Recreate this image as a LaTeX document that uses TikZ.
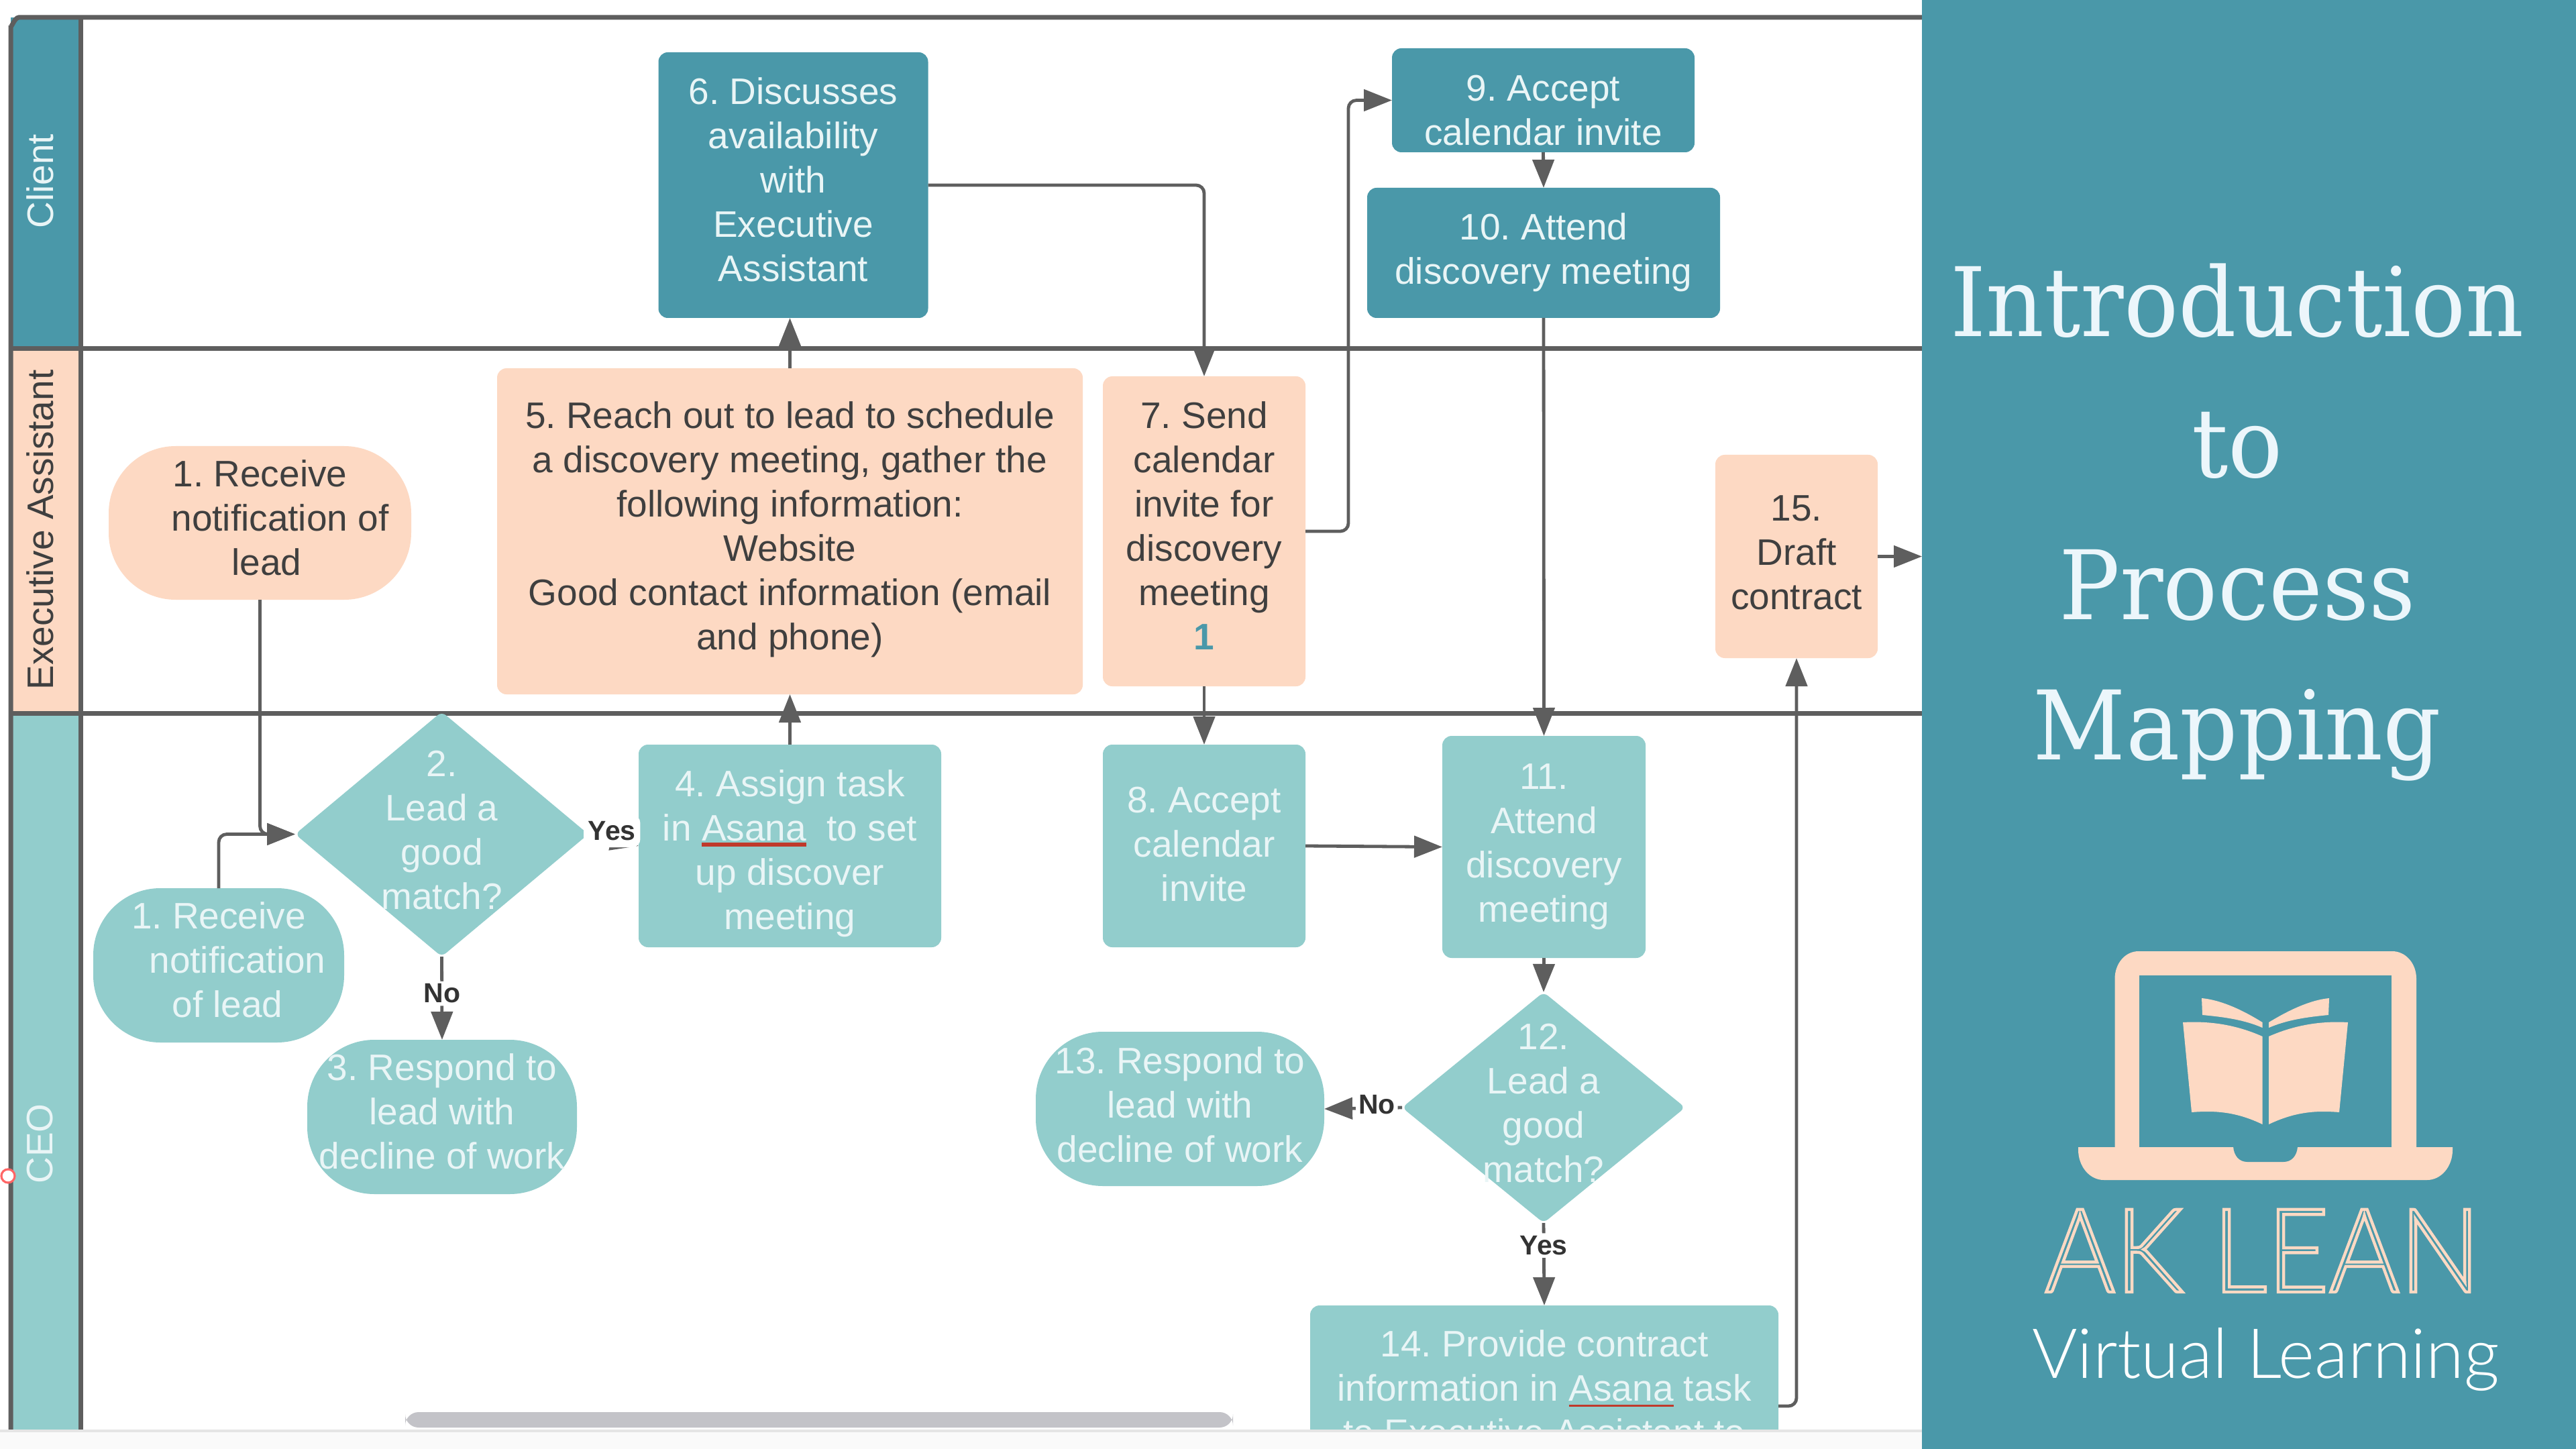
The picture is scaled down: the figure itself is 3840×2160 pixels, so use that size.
\documentclass[tikz,border=0pt]{standalone}
\usepackage{fontspec}
\usetikzlibrary{arrows.meta,shapes.geometric}
\setmainfont{Liberation Sans}
\newfontfamily\titlefont[FakeStretch=.945]{DejaVu Serif}
\newfontfamily\logofont{Lato Light}
\newfontfamily\logoname[FakeStretch=.92]{Lato Light}
\definecolor{laneteal}{HTML}{4A98A9}
\definecolor{lanemint}{HTML}{92CDCC}
\definecolor{lanepeach}{HTML}{FDD9C3}
\definecolor{linegray}{HTML}{5E5E5E}
\definecolor{darktext}{HTML}{3F3F3F}
\definecolor{lighttext}{HTML}{E9F5F6}
\definecolor{spellred}{HTML}{C0392B}
\definecolor{titletext}{HTML}{ECF6FB}
\newcommand{\redline}[2]{\setbox0\hbox{#2}\rlap{\color{spellred}\rule[-2.2pt]{\wd0}{#1}}\box0\relax}
\newcommand{\lift}[1]{\rule[-#1pt]{0pt}{0pt}}
\newcommand{\drop}[1]{\rule{0pt}{#1pt}}
\tikzset{sz/.style 2 args={minimum width=#1*.25pt, minimum height=#2*.25pt}}
\tikzset{flow/.style={inner sep=0pt, outer sep=0pt, align=center, font=\frenchspacing\fontsize{13.75}{16.5}\selectfont}}
\tikzset{cbox/.style={flow, rectangle, rounded corners=3.5pt, fill=laneteal, text=lighttext}}
\tikzset{mbox/.style={flow, rectangle, rounded corners=3.5pt, fill=lanemint, text=lighttext}}
\tikzset{pbox/.style={flow, rectangle, rounded corners=3.5pt, fill=lanepeach, text=darktext}}
\tikzset{term/.style={rounded corners=25pt}}
\tikzset{decision/.style={shape=diamond, inner sep=0pt, outer sep=0pt, rounded corners=2pt, fill=lanemint}}
\tikzset{dtext/.style={flow, text=lighttext}}
\tikzset{lanetext/.style={flow, rotate=90}}
\tikzset{laneline/.style={color=linegray, line width=1.75pt}}
\tikzset{edge/.style={color=linegray, line width=1.2pt, rounded corners=3pt, -{Triangle[length=10.5pt, width=8pt]}}}
\tikzset{edgelabel/.style={inner sep=1pt, fill=white, text=black!80, font=\fontsize{10.25}{12}\selectfont\bfseries}}
\tikzset{bigtitle/.style={inner sep=0pt, anchor=base, text=titletext, font=\titlefont\fontsize{35.75}{42}\selectfont}}
\begin{document}
\begin{tikzpicture}[x=.25pt, y=-.25pt]
  \path[use as bounding box, fill=white] (0,0) rectangle (3840,2160);

  \begin{scope}
    \clip (0,0) rectangle (2865,2133);
    % lanes
    \fill[laneteal] (16,26) rectangle (120,520);
    \fill[lanepeach] (16,520) rectangle (120,1063);
    \fill[lanemint] (16,1063) rectangle (120,2133);
    \draw[laneline] (2865,26) -- (28,26) to[out=180, in=-90] (16,38) -- (16,2133);
    \draw[laneline] (120,26) -- (120,2133);
    \draw[laneline] (16,520) -- (2865,520);
    \draw[laneline] (16,1063) -- (2865,1063);
    \node[lanetext, text=lighttext] (laneclient) at (60,270) {Client};
    \node[lanetext, text=darktext] (laneexec) at (60,790) {Executive Assistant};
    \node[lanetext, text=lighttext] (laneceo) at (60,1705) {CEO};
    \draw[color=red!60, fill=white, line width=.8pt] (12,1753) circle (10);

    % client
    \node[cbox, sz={402}{396}] (n6) at (1182.5,276) {6. Discusses\\availability\\with\\Executive\\Assistant\lift{4.2}};
    \node[cbox, sz={451}{155}] (n9) at (2300.5,149.5) {\drop{17}9. Accept\\calendar invite};
    \node[cbox, sz={526}{194}] (n10) at (2301,377) {10. Attend\\discovery meeting\lift{3}};

    % executive assistant
    \node[pbox, term, sz={451}{229}] (ea1) at (387.5,779.5) {1. Receive\\\hspace*{15pt}notification of\\\hspace*{5pt}lead\lift{4}};
    \node[pbox, sz={873}{486}] (n5) at (1177.5,792) {5. Reach out to lead to schedule\\a discovery meeting, gather the\\following information:\\Website\\Good contact information (email\\and phone)\lift{4}};
    \node[pbox, sz={302}{462}] (n7) at (1795,792) {7. Send\\calendar\\invite for\\discovery\\meeting\\{\color{laneteal}\bfseries 1}\lift{4}};
    \node[pbox, sz={242}{303}] (n15) at (2678,829.5) {15.\\Draft\\contract\lift{3}};

    % ceo
    \node[decision, sz={437}{365}, label={[dtext, yshift=1.5pt]center:{2.\\Lead a\\good\\match?}}] (n2) at (658.5,1243.5) {};
    \node[mbox, term, sz={374}{230}] (ceo1) at (326,1439) {1. Receive\\\hspace*{14pt}notification\\\hspace*{6.5pt}of lead\lift{4}};
    \node[mbox, term, sz={402}{230}] (n3) at (659,1665) {3. Respond to\\lead with\\decline of work\lift{4}};
    \node[mbox, sz={451}{302}] (n4) at (1177.5,1261) {\drop{15.5}4. Assign task\\in \redline{1.5pt}{Asana}\ \ to set\\up discover\\meeting};
    \node[mbox, sz={302}{302}] (n8) at (1795,1261) {8. Accept\\calendar\\invite\lift{1.2}};
    \node[mbox, sz={303}{331}] (n11) at (2301.5,1262.5) {11.\\Attend\\discovery\\meeting\lift{3}};
    \node[decision, sz={422}{344}, label={[dtext, yshift=1.6pt]center:{12.\\Lead a\\good\\match?}}] (n12) at (2301,1651) {};
    \node[mbox, term, sz={430}{230}] (n13) at (1759,1653) {13. Respond to\\lead with\\decline of work\lift{3}};
    \node[mbox, anchor=north, sz={698}{246}] (n14) at (2302,1946) {14. Provide contract\\information in \redline{.8pt}{Asana} task\\to Executive Assistant to};

    \coordinate (bend79) at (2010,470);
    \coordinate (out14) at (2651,2096);
    \coordinate (exit15) at (2865,829.5);

    % connectors
    \draw[edge] (n4.north) -- (n5.south);
    \draw[edge] (n5.north) -- (n5.north |- n6.south);
    \draw[edge] (n6.east) -| (n7.north);
    \draw[edge] (n7.east) -| (bend79) |- (n9.west);
    \draw[edge] (n9.south) -- (n10.north);
    \draw[edge] (n10.south) -- (n11.north);
    \draw[edge] (n7.south) -- (n8.north);
    \draw[edge] (n8.east) -- (n11.west);
    \draw[edge] (n11.south) -- (n12.north);
    \draw[edge] (ea1.south) |- (n2.west);
    \draw[edge] (ceo1.north) |- (n2.west);
    \draw[edge] (out14) -| (n15.south);
    \draw[edge] (n15.east) -- (exit15);
    \draw[edge] (n2.east) -- node[edgelabel, pos=.47, yshift=3.2pt, inner xsep=1.7pt, inner ysep=2.5pt] (yes2) {Yes} (n4.west);
    \draw[edge] (n2.south) -- node[edgelabel, pos=.457, yshift=.4pt] (no2) {No} (n3.north);
    \draw[edge] (n12.west) -- node[edgelabel, pos=.325, yshift=1.2pt] (no12) {No} (n13.east);
    \draw[edge] (n12.south) -- node[edgelabel, pos=.286, yshift=.4pt] (yes12) {Yes} (n14.north);

    % scroll bar
    \fill[color=black!10!blue!5!gray!45, rounded corners=5pt] (604,2105) rectangle (1838,2128);
  \end{scope}

  % browser edge
  \fill[color=black!2] (0,2133) rectangle (2865,2160);
  \draw[color=black!10, line width=.8pt] (0,2133) -- (2865,2133);

  % side panel
  \fill[laneteal] (2865,0) rectangle (3840,2160);
  \foreach \word/\y in {Introduction/502,to/712,Process/923,Mapping/1132} {
    \node[bigtitle] (title\word) at (3335,\y) {\word};
  }

  % laptop
  \fill[lanepeach] (3152.5,1710) -- (3152.5,1459) .. controls (3152.5,1436) and (3168,1418) .. (3188,1418)
    -- (3566,1418) .. controls (3586,1418) and (3602,1436) .. (3602,1459) -- (3602,1710) -- (3656,1710) -- (3656,1714)
    .. controls (3656,1739) and (3639,1759) .. (3618,1759) -- (3136,1759)
    .. controls (3115,1759) and (3098,1739) .. (3098,1714) -- (3098,1710) -- cycle;
  \fill[laneteal] (3189,1454) rectangle (3565,1710);
  \fill[laneteal] (3329,1709) -- (3425,1709) .. controls (3424,1723) and (3416,1732) .. (3404,1732)
    -- (3350,1732) .. controls (3338,1732) and (3330,1723) .. (3329,1709) -- cycle;

  % open book
  \fill[lanepeach] (3382,1545) .. controls (3425,1526) and (3465,1522) .. (3500,1524) -- (3487,1658)
    .. controls (3450,1655) and (3420,1658) .. (3382,1676) -- cycle;
  \fill[lanepeach] (3372.5,1545) .. controls (3330,1526) and (3290,1522) .. (3254,1524) -- (3267,1658)
    .. controls (3304,1655) and (3335,1658) .. (3372.5,1676) -- cycle;
  \fill[lanepeach] (3382,1532) .. controls (3410,1520) and (3440,1516) .. (3471,1513) -- (3472,1488)
    .. controls (3440,1491) and (3405,1510) .. (3382,1524) -- cycle;
  \fill[lanepeach] (3372.5,1532) .. controls (3345,1520) and (3315,1516) .. (3283,1513) -- (3282,1488)
    .. controls (3315,1491) and (3350,1510) .. (3372.5,1524) -- cycle;

  \node[inner sep=0pt, anchor=base, text=lanepeach, font=\logoname\fontsize{43.5}{50}\selectfont] (logoname) at (3373,1926)
    {\special{pdf:code 1 Tr 1.1 w}AK LEAN\special{pdf:code 0 Tr}};
  \node[inner sep=0pt, anchor=base, text=white, font=\logofont\fontsize{25.8}{30}\selectfont] (logosub) at (3377.5,2054) {Virtual Learning};
\end{tikzpicture}
\end{document}
